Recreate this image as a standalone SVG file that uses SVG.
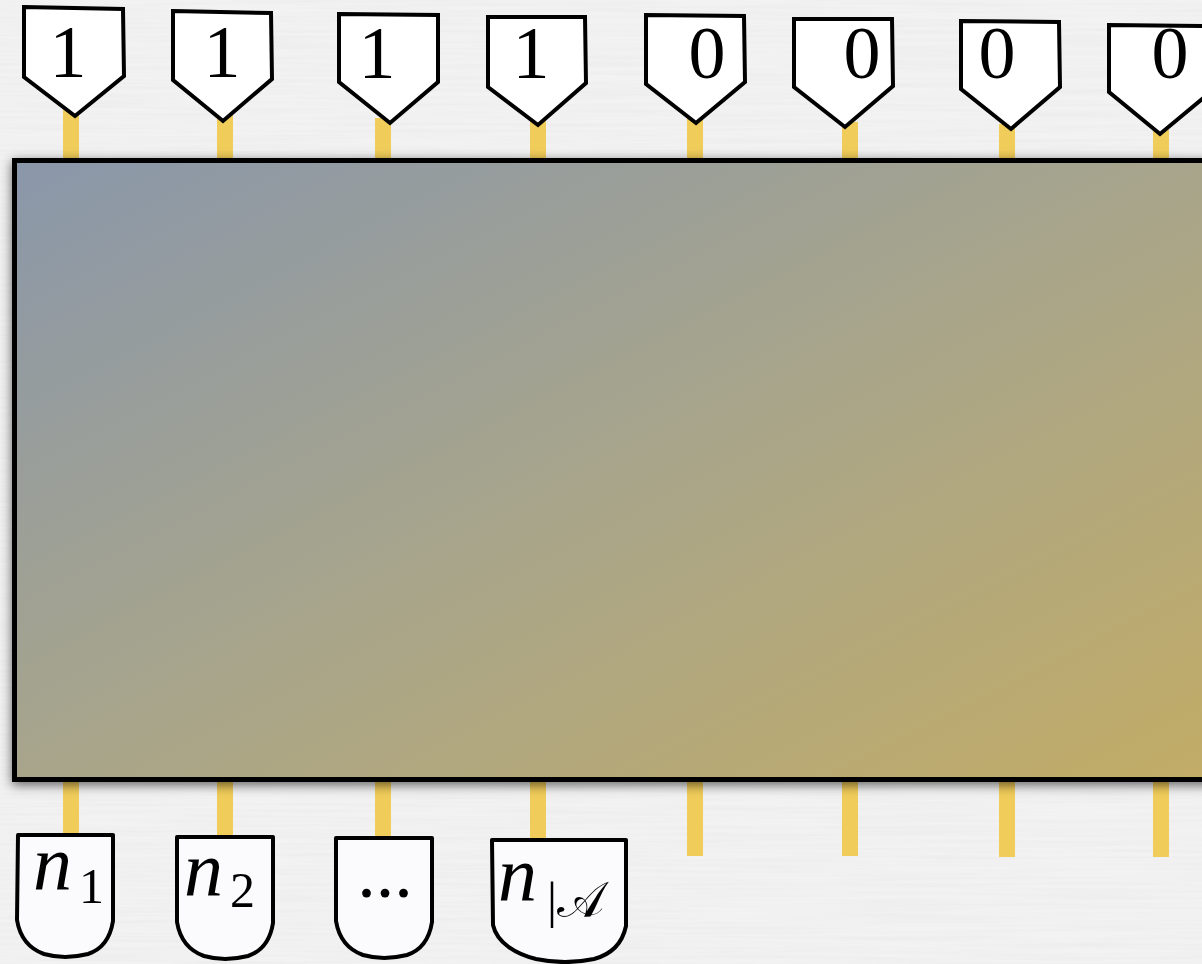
<svg xmlns="http://www.w3.org/2000/svg" width="1202" height="964" viewBox="0 0 1202 964">
  <defs>
    <linearGradient id="body" x1="0" y1="0" x2="1" y2="1" gradientUnits="objectBoundingBox">
      <stop offset="0" stop-color="#8a97aa"/>
      <stop offset="0.5" stop-color="#a8a58b"/>
      <stop offset="1" stop-color="#c2ac66"/>
    </linearGradient>
    <filter id="paper" x="0" y="0" width="100%" height="100%">
      <feTurbulence type="fractalNoise" baseFrequency="0.006 0.3" numOctaves="3" seed="4"/>
      <feColorMatrix type="matrix" values="0 0 0 0 0.8  0 0 0 0 0.8  0 0 0 0 0.8  0 0 0 0.9 -0.3"/>
    </filter>
    <filter id="shadow" x="-10%" y="-10%" width="120%" height="120%">
      <feDropShadow dx="0" dy="3" stdDeviation="6" flood-color="#000" flood-opacity="0.6"/>
    </filter>
    <style>
      .stem { fill: #f0cc5a; }
      .pin { fill: #ffffff; stroke: #000; stroke-width: 4; stroke-linejoin: miter; }
      .out { fill: #fbfbfe; stroke: #000; stroke-width: 4; stroke-linejoin: round; }
      .digit { font-family: "Liberation Serif", serif; font-size: 74px; fill: #000; text-anchor: middle; }
      .math { font-family: "Liberation Serif", serif; font-style: italic; font-size: 78px; fill: #000; }
      .sub { font-family: "Liberation Serif", serif; font-style: normal; font-size: 50px; }
    </style>
  </defs>

  <rect x="0" y="0" width="1202" height="964" fill="#f2f2f2"/>
  <rect x="0" y="0" width="1202" height="964" filter="url(#paper)"/>

  <g id="connectors">
    <rect class="stem" x="63" y="110" width="16" height="52"/>
    <rect class="stem" x="217" y="115" width="16" height="47"/>
    <rect class="stem" x="375" y="118" width="16" height="44"/>
    <rect class="stem" x="530" y="120" width="16" height="42"/>
    <rect class="stem" x="687" y="118" width="16" height="44"/>
    <rect class="stem" x="842" y="122" width="16" height="40"/>
    <rect class="stem" x="999" y="124" width="16" height="38"/>
    <rect class="stem" x="1153" y="128" width="16" height="34"/>

    <rect class="stem" x="63" y="776" width="16" height="60"/>
    <rect class="stem" x="217" y="776" width="16" height="62"/>
    <rect class="stem" x="375" y="776" width="16" height="62"/>
    <rect class="stem" x="530" y="776" width="16" height="64"/>
    <rect class="stem" x="687" y="776" width="16" height="80"/>
    <rect class="stem" x="842" y="776" width="16" height="80"/>
    <rect class="stem" x="999" y="776" width="16" height="81"/>
    <rect class="stem" x="1153" y="776" width="16" height="81"/>
  </g>

  <g id="body-node">
    <rect x="14.5" y="160.5" width="1200" height="619" fill="url(#body)" stroke="#000" stroke-width="5" filter="url(#shadow)"/>
  </g>

  <g id="in1">
    <polygon class="pin" points="24,7 123,9 124,76 75,116 24,77"/>
    <text class="digit" x="68" y="77">1</text>
  </g>
  <g id="in2">
    <polygon class="pin" points="173,11 271,13 272,79 223,121 173,80"/>
    <text class="digit" x="222" y="77">1</text>
  </g>
  <g id="in3">
    <polygon class="pin" points="339,14 438,15 438,82 390,123 339,82"/>
    <text class="digit" x="377" y="78">1</text>
  </g>
  <g id="in4">
    <polygon class="pin" points="488,17 585,17 586,83 538,125 488,87"/>
    <text class="digit" x="531" y="78">1</text>
  </g>
  <g id="in5">
    <polygon class="pin" points="646,15 744,16 745,82 696,123 646,84"/>
    <text class="digit" x="707" y="78">0</text>
  </g>
  <g id="in6">
    <polygon class="pin" points="794,19 892,19 893,86 845,127 794,87"/>
    <text class="digit" x="862" y="78">0</text>
  </g>
  <g id="in7">
    <polygon class="pin" points="961,21 1059,22 1060,87 1011,129 961,89"/>
    <text class="digit" x="997" y="78">0</text>
  </g>
  <g id="in8">
    <polygon class="pin" points="1109,25 1212,26 1213,90 1160,134 1109,92"/>
    <text class="digit" x="1170" y="78">0</text>
  </g>

  <g id="out1">
    <path class="out" d="M18,835 L113,835 L113,921 C110,940 100,950 88,954 C72,958 58,958 44,954 C30,949 20,938 17,920 Z"/>
    <text class="math" x="33" y="890">n<tspan class="sub" x="79" y="903">1</tspan></text>
  </g>
  <g id="out2">
    <path class="out" d="M177,837 L273,837 L273,923 C270,942 260,952 248,956 C232,960 218,960 204,956 C190,951 180,940 177,922 Z"/>
    <text class="math" x="184" y="896">n<tspan class="sub" x="230" y="907">2</tspan></text>
  </g>
  <g id="out3">
    <path class="out" d="M336,838 L432,838 L432,922 C429,941 419,951 407,955 C391,959 377,959 363,955 C349,950 339,939 336,921 Z"/>
    <text class="digit" x="385" y="897" font-size="90">...</text>
  </g>
  <g id="out4">
    <path class="out" d="M492,840 L626,840 L626,926 C622,945 609,955 594,959 C575,963 555,963 536,959 C516,954 497,943 493,925 Z"/>
    <text class="math" x="498" y="901">n<tspan class="sub" x="547" y="917" font-size="60">|𝒜</tspan></text>
  </g>
</svg>
